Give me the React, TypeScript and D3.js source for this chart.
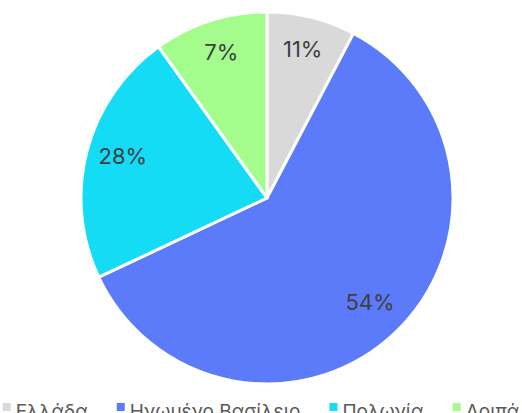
import React, { useEffect, useRef } from "react";
import * as d3 from "d3";

const categories = ["Ελλάδα", "Ηνωμένο Βασίλειο", "Πολωνία", "Λοιπά"];
const sliceValues = [7.7, 60.3, 22.1, 9.9];
const sliceLabels = ["11%", "54%", "28%", "7%"];
const colors = ["#d9d9d9", "#5b7bfa", "#14dcf5", "#a3fc8c"];

const W = 522;
const H = 413;

export default function App() {
  const ref = useRef<SVGSVGElement | null>(null);

  useEffect(() => {
    const svg = d3.select(ref.current);
    svg.selectAll("*").remove();
    const cx = 267;
    const cy = 198;
    const r = 186;

    const pie = d3.pie<number>().sort(null).value((d) => d);
    const arcs = pie(sliceValues);
    const arc = d3.arc<d3.PieArcDatum<number>>().innerRadius(0).outerRadius(r);
    const labelArc = d3.arc<d3.PieArcDatum<number>>().innerRadius(149).outerRadius(149);

    const g = svg.append("g").attr("transform", `translate(${cx},${cy})`);
    g.selectAll("path")
      .data(arcs)
      .join("path")
      .attr("d", arc)
      .attr("fill", (_, i) => colors[i])
      .attr("stroke", "#ffffff")
      .attr("stroke-width", 3)
      .attr("stroke-linejoin", "round");

    g.selectAll("text")
      .data(arcs)
      .join("text")
      .attr("transform", (d) => {
        const [x, y] = labelArc.centroid(d);
        return `translate(${x},${y - 4})`;
      })
      .attr("text-anchor", "middle")
      .attr("dominant-baseline", "central")
      .attr("font-family", "Inter, sans-serif")
      .attr("font-size", 22)
      .attr("fill", "#404040")
      .text((_, i) => sliceLabels[i]);

    // legend
    const lg = svg.append("g");
    const items = lg
      .selectAll("g")
      .data(categories)
      .join("g");
    items
      .append("rect")
      .attr("width", 8)
      .attr("height", 8)
      .attr("y", -8)
      .attr("fill", (_, i) => colors[i]);
    items
      .append("text")
      .attr("x", 13)
      .attr("font-family", "Inter, sans-serif")
      .attr("font-size", 19)
      .attr("fill", "#595959")
      .attr("y", 7)
      .text((d) => d);
    const widths: number[] = [];
    items.select("text").each(function () {
      widths.push((this as SVGTextElement).getComputedTextLength());
    });
    const gap = 29;
    const itemW = widths.map((w) => 13 + w);
    const total = d3.sum(itemW) + gap * (categories.length - 1);
    let x = (W - total) / 2;
    const xs: number[] = [];
    itemW.forEach((w) => {
      xs.push(x);
      x += w + gap;
    });
    items.attr("transform", (_, i) => `translate(${xs[i]},${411})`);
  }, []);

  return (
    <svg
      ref={ref}
      width={W}
      height={H}
      style={{ position: "absolute", left: 0, top: 0, background: "#ffffff" }}
    />
  );
}
